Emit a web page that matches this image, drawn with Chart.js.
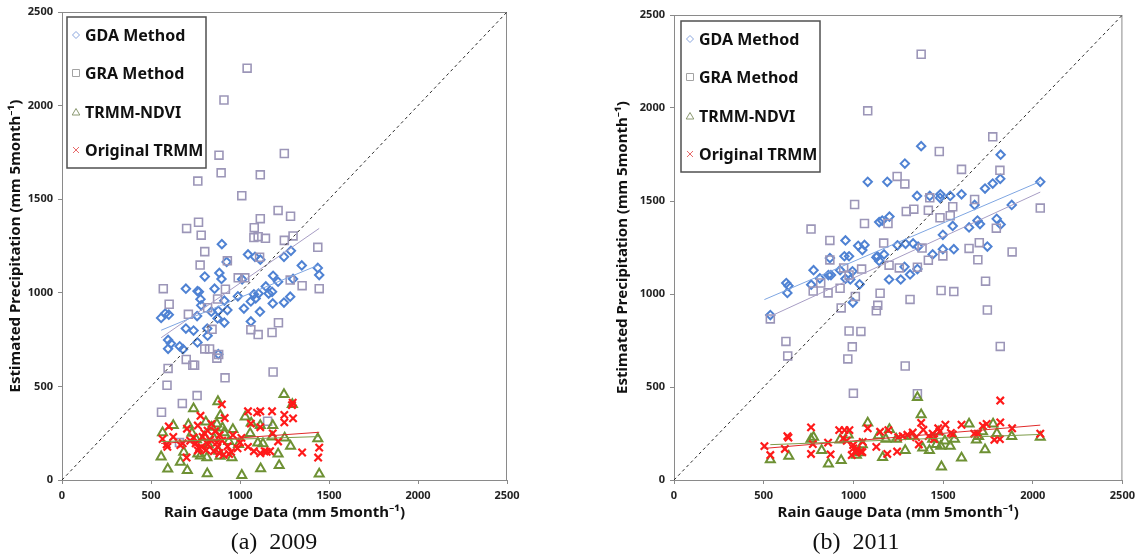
<!DOCTYPE html>
<html lang="en">
<head>
<meta charset="UTF-8">
<title>Rain gauge vs estimated precipitation</title>
<style>
    * { margin: 0; padding: 0; box-sizing: border-box; }
    body {
        width: 1140px;
        height: 560px;
        background: #fff;
        position: relative;
        overflow: hidden;
        font-family: 'Noto Sans', sans-serif;
    }
    .panel { position: absolute; top: 0; width: 570px; height: 530px; }
    .panel canvas { display: block; }
    .caption {
        position: absolute;
        top: 528px;
        width: 200px;
        text-align: center;
        font-family: 'Liberation Serif', serif;
        font-size: 24px;
        color: #111;
        white-space: pre;
    }
</style>
<script src="https://cdn.jsdelivr.net/npm/chart.js"></script>
</head>
<body>
<div class="panel" style="left:0"><canvas id="chart2009" width="570" height="530"></canvas></div>
<div class="panel" style="left:570px"><canvas id="chart2011" width="570" height="530"></canvas></div>
<div class="caption" style="left:174px">(a)  2009</div>
<div class="caption" style="left:756px">(b)  2011</div>

<script>
// axis / legend text
const axisMax = 2500;
const axisStep = 500;
const legendNames = ['GDA Method', 'GRA Method', 'TRMM-NDVI', 'Original TRMM'];
const oneToOne = [[0, 0], [2500, 2500]];

// 2009 : [rain gauge, estimate]
const gda2009 = [[898,1260],[1045,1205],[1084,1192],[1114,1177],[1247,1192],[1286,1224],[925,1165],[1347,1146],
    [1437,1133],[1445,1095],[802,1087],[884,1106],[896,1074],[1186,1091],[1298,1074],[1012,1072],[1214,1059],
    [696,1022],[761,1009],[769,1005],[857,1022],[1145,1034],[1104,996],[988,981],[1078,992],[1088,970],[1161,996],
    [1180,1005],[1282,979],[1184,943],[1247,948],[778,966],[782,933],[912,958],[1022,916],[1061,954],[929,908],
    [1112,899],[1061,847],[557,866],[580,889],[600,883],[759,876],[874,863],[878,904],[839,899],[912,841],[696,809],
    [739,798],[818,771],[816,809],[761,735],[596,748],[612,729],[661,714],[680,699],[596,701],[878,672]];
const gra2009 = [[1040,2200],[910,2030],[882,1735],[894,1641],[763,1597],[1249,1744],[1114,1630],[1010,1519],
    [1214,1440],[1284,1409],[1114,1396],[767,1377],[700,1344],[782,1308],[1080,1348],[1078,1295],[1102,1300],
    [1143,1291],[1298,1304],[1249,1280],[1437,1243],[802,1220],[929,1171],[776,1148],[1110,1190],[990,1080],
    [1027,1080],[1349,1038],[1445,1022],[569,1022],[1282,1068],[918,1019],[874,967],[602,939],[710,885],[818,920],
    [1216,840],[1061,803],[1102,777],[1180,788],[843,805],[802,700],[829,700],[698,644],[745,613],[735,613],
    [880,670],[870,651],[596,596],[916,546],[1186,577],[590,506],[759,451],[676,409],[559,362],[1155,314],[660,200]];
const ndvi2009 = [[1247,457],[876,419],[1294,404],[739,381],[890,345],[1029,337],[808,310],[1063,305],[1114,291],
    [625,291],[710,295],[1184,291],[565,253],[841,282],[902,278],[910,253],[1057,249],[1251,225],[1437,221],
    [1100,198],[1129,194],[1284,181],[992,190],[755,215],[763,139],[822,187],[557,124],[665,95],[684,149],[814,120],
    [888,128],[955,120],[1214,139],[594,59],[704,51],[816,34],[1116,61],[1220,78],[1010,25],[1445,32],[853,223],
    [937,206],[778,129],[880,154],[730,250],[800,230],[870,300],[960,270],[1180,230]];
const trmm2009 = [[1296,413],[1292,400],[898,404],[1045,367],[1114,367],[1180,367],[1249,348],[1298,329],[1249,308],
    [914,331],[778,343],[600,286],[702,274],[763,291],[1061,301],[1114,282],[565,219],[625,230],[818,263],[886,240],
    [1008,225],[1184,249],[1214,206],[1445,173],[1439,120],[1349,147],[592,177],[588,190],[665,187],[678,196],
    [700,120],[739,227],[751,196],[763,158],[784,177],[833,215],[853,154],[874,177],[884,143],[908,135],[939,139],
    [986,169],[1045,177],[1078,154],[1114,143],[1139,154],[1169,154],[1096,360],[800,250],[860,260],[770,170],
    [820,190],[900,210],[950,150],[1000,200],[1150,150],[720,210],[790,230],[810,160],[870,200],[930,180],
    [960,240],[840,300]];
// trend lines (start / end)
const gdaFit2009 = [[557,800],[1445,1150]];
const graFit2009 = [[557,760],[1445,1344]];
const ndviFit2009 = [[557,205],[1445,232]];
const trmmFit2009 = [[557,195],[1445,255]];

// 2011
const gda2011 = [[1378,1795],[1287,1701],[1821,1749],[1080,1603],[1189,1603],[1819,1619],[1777,1594],[1734,1567],
    [2042,1603],[1355,1527],[1426,1527],[1485,1536],[1483,1517],[1540,1527],[1603,1536],[1883,1479],[1676,1479],
    [1201,1416],[1144,1387],[1161,1395],[1799,1404],[1692,1395],[1706,1376],[1821,1374],[1554,1366],[1645,1358],
    [956,1288],[1499,1318],[1333,1272],[1361,1255],[1246,1262],[1291,1270],[1027,1259],[1050,1236],[1062,1264],
    [1747,1255],[1560,1241],[1442,1213],[1499,1241],[950,1203],[976,1203],[1134,1203],[1171,1213],[778,1128],
    [869,1193],[1357,1134],[1285,1146],[995,1122],[983,1078],[813,1084],[861,1102],[875,1102],[1316,1105],
    [1199,1078],[1264,1078],[956,1082],[626,1059],[638,1044],[632,1006],[765,1050],[926,1128],[1144,1178],
    [1128,1197],[997,954],[537,887],[1035,1052]];
const gra2011 = [[1378,2289],[1080,1985],[1777,1845],[1479,1766],[1603,1670],[1817,1665],[1244,1632],[1287,1592],
    [1007,1481],[1676,1508],[2042,1462],[1295,1444],[1337,1456],[1418,1450],[1426,1517],[1554,1469],[1483,1410],
    [1540,1421],[1193,1379],[764,1349],[1062,1379],[869,1288],[1169,1274],[1797,1354],[1702,1276],[1645,1245],
    [1885,1226],[869,1183],[1383,1247],[1499,1205],[1694,1184],[1418,1182],[1199,1155],[1256,1140],[1357,1144],
    [1046,1134],[946,1140],[976,1102],[818,1059],[776,1016],[859,1006],[926,1031],[1011,987],[1149,1004],
    [1489,1019],[1560,1013],[1737,1069],[1316,971],[1136,939],[1128,910],[932,925],[1747,914],[537,866],[976,801],
    [1042,799],[994,716],[1819,718],[624,745],[634,667],[969,651],[1289,613],[1000,466],[1357,464]];
const ndvi2011 = [[1357,444],[1378,351],[1080,307],[1645,301],[1779,301],[1473,259],[778,230],[764,220],[971,243],
    [1201,272],[2042,230],[1883,234],[1734,163],[1603,119],[1491,71],[537,109],[640,128],[823,159],[861,86],
    [932,105],[1037,147],[1017,134],[1163,121],[1289,159],[1387,172],[1424,159],[1463,191],[1487,182],[1540,182],
    [1564,220],[1686,215],[1698,234],[1442,220],[1240,220],[1321,236],[1181,220],[1140,239],[926,216],[1720,260],
    [1800,250],[1510,210],[1050,190]];
const trmm2011 = [[1819,427],[1378,307],[1819,310],[1603,297],[1513,297],[1722,291],[1743,301],[1885,278],[1080,278],
    [764,283],[921,268],[951,268],[978,268],[1473,278],[1442,249],[1331,255],[1195,268],[1149,259],[2042,249],
    [1554,245],[1544,253],[1694,249],[1674,249],[632,236],[638,228],[504,182],[618,167],[774,193],[859,201],
    [944,224],[963,211],[1052,205],[1019,163],[1040,153],[999,188],[1128,178],[1189,140],[1244,153],[1275,236],
    [1301,243],[1420,236],[1450,220],[1817,220],[1786,216],[537,134],[764,140],[873,138],[991,134],[1013,148],
    [1365,191],[1390,270],[1480,260],[1350,230],[1250,230],[1000,170],[1050,150]];
const gdaFit2011 = [[504,970],[2042,1605]];
const graFit2011 = [[537,880],[2042,1548]];
const ndviFit2011 = [[537,190],[2042,245]];
const trmmFit2011 = [[504,170],[2042,295]];

const toPts = arr => arr.map(p => ({ x: p[0], y: p[1] }));

// small symbols for the boxed legend
function drawSymbol(ctx, kind, x, y, color) {
    ctx.save();
    ctx.strokeStyle = color;
    ctx.lineWidth = 1;
    ctx.beginPath();
    if (kind === 'diamond') {
        ctx.moveTo(x, y - 3.5); ctx.lineTo(x + 3.5, y); ctx.lineTo(x, y + 3.5); ctx.lineTo(x - 3.5, y); ctx.closePath();
    } else if (kind === 'square') {
        ctx.rect(x - 3.5, y - 3.5, 7, 7);
    } else if (kind === 'triangle') {
        ctx.moveTo(x, y - 3.5); ctx.lineTo(x + 3.8, y + 3); ctx.lineTo(x - 3.8, y + 3); ctx.closePath();
    } else {
        ctx.moveTo(x - 3, y - 3); ctx.lineTo(x + 3, y + 3); ctx.moveTo(x + 3, y - 3); ctx.lineTo(x - 3, y + 3);
    }
    ctx.stroke();
    ctx.restore();
}

const boxLegend = {
    id: 'boxLegend',
    afterDatasetsDraw(chart, args, opts) {
        const { ctx, chartArea } = chart;
        const x0 = chartArea.left + opts.dx;
        const y0 = chartArea.top + opts.dy;
        ctx.save();
        ctx.fillStyle = '#fff';
        ctx.fillRect(x0, y0, opts.w, opts.h);
        ctx.strokeStyle = '#505050';
        ctx.lineWidth = 1.5;
        ctx.strokeRect(x0, y0, opts.w, opts.h);
        const items = chart.data.datasets.filter(d => d.legendSymbol)
            .sort((a, b) => a.legendIndex - b.legendIndex);
        ctx.font = 'bold 16px "Noto Sans"';
        ctx.textBaseline = 'middle';
        items.forEach((d, i) => {
            const cy = y0 + opts.rows[i];
            drawSymbol(ctx, d.legendSymbol, x0 + 9, cy, d.legendColor);
            ctx.fillStyle = '#111';
            ctx.fillText(d.label, x0 + 18, cy + 1);
        });
        ctx.restore();
    }
};

// gray frame round the plot area
const plotFrame = {
    id: 'plotFrame',
    beforeDatasetsDraw(chart) {
        const { ctx, chartArea: a } = chart;
        ctx.save();
        ctx.strokeStyle = '#8a8a8a';
        ctx.lineWidth = 1;
        ctx.strokeRect(a.left + 0.5, a.top + 0.5, a.right - a.left - 1, a.bottom - a.top);
        ctx.restore();
    }
};

function fitLine(label, pts, color, width) {
    return { label, data: toPts(pts), showLine: true, borderColor: color, borderWidth: width,
             pointRadius: 0, order: 1 };
}

function buildDatasets(gda, gra, ndvi, trmm, fits) {
    return [
        { label: legendNames[0], data: toPts(gda), pointStyle: 'rectRot', pointRadius: 4.2,
          pointBorderColor: '#4f82d3', pointBackgroundColor: 'rgba(0,0,0,0)', pointBorderWidth: 2,
          order: 5, legendSymbol: 'diamond', legendColor: '#8aa6de', legendIndex: 0 },
        { label: legendNames[1], data: toPts(gra), pointStyle: 'rect', pointRadius: 5.6,
          pointBorderColor: '#9c96b8', pointBackgroundColor: 'rgba(0,0,0,0)', pointBorderWidth: 1.6,
          order: 4, legendSymbol: 'square', legendColor: '#a3a3a3', legendIndex: 1 },
        { label: legendNames[2], data: toPts(ndvi), pointStyle: 'triangle', pointRadius: 5.2,
          pointBorderColor: '#6e9134', pointBackgroundColor: 'rgba(0,0,0,0)', pointBorderWidth: 2,
          order: 3, legendSymbol: 'triangle', legendColor: '#8a9870', legendIndex: 2 },
        { label: legendNames[3], data: toPts(trmm), pointStyle: 'crossRot', pointRadius: 5.2,
          pointBorderColor: '#ff1a1a', pointBackgroundColor: 'rgba(0,0,0,0)', pointBorderWidth: 2.2,
          order: 2, legendSymbol: 'cross', legendColor: '#e86a6a', legendIndex: 3 },
        fitLine('GDA trend', fits[0], '#7fa6e2', 1),
        fitLine('GRA trend', fits[1], '#a79dc4', 1),
        fitLine('NDVI trend', fits[2], '#7c9b48', 1),
        fitLine('TRMM trend', fits[3], '#e02a2a', 1),
        { label: '1:1', data: toPts(oneToOne), showLine: true, borderColor: '#2a2a2a', borderWidth: 1,
          borderDash: [3, 3], pointRadius: 0, order: 0 }
    ];
}

function makeChart(id, datasets, cfg) {
    const tickFont = { family: "'Noto Sans', sans-serif", size: 11, weight: 'bold' };
    const titleFont = { family: "'Noto Sans', sans-serif", size: 15, weight: 'bold' };
    const axisBase = {
        type: 'linear', min: 0, max: axisMax,
        ticks: { stepSize: axisStep, color: '#222', font: tickFont, padding: 5, callback: v => String(v) },
        grid: { drawOnChartArea: false, drawTicks: true, tickLength: 4, color: '#8a8a8a' },
        border: { color: '#8a8a8a' }
    };
    return new Chart(document.getElementById(id), {
        type: 'scatter',
        data: { datasets },
        options: {
            responsive: false,
            animation: false,
            layout: { padding: { left: 0, top: cfg.top, right: cfg.right, bottom: 0 } },
            plugins: {
                legend: { display: false },
                tooltip: { enabled: false },
                boxLegend: cfg.legend
            },
            scales: {
                x: Object.assign({}, axisBase, {
                    title: { display: true, text: 'Rain Gauge Data (mm 5month⁻¹)', color: '#111',
                             font: titleFont, padding: { top: 0, bottom: 8 } },
                    afterFit(scale) { scale.height = 50; }
                }),
                y: Object.assign({}, axisBase, {
                    title: { display: true, text: 'Estimated Precipitation (mm 5month⁻¹)', color: '#111',
                             font: titleFont, padding: { top: cfg.yTitlePad, bottom: 0 } },
                    afterFit(scale) { scale.width = cfg.yWidth; }
                })
            }
        },
        plugins: [plotFrame, boxLegend]
    });
}

makeChart('chart2009',
    buildDatasets(gda2009, gra2009, ndvi2009, trmm2009, [gdaFit2009, graFit2009, ndviFit2009, trmmFit2009]),
    { top: 12, right: 63, yWidth: 62, yTitlePad: 7,
      legend: { dx: 5, dy: 5, w: 139, h: 151, rows: [18, 56, 95, 133] } });

makeChart('chart2011',
    buildDatasets(gda2011, gra2011, ndvi2011, trmm2011, [gdaFit2011, graFit2011, ndviFit2011, trmmFit2011]),
    { top: 15, right: 15, yWidth: 104, yTitlePad: 44,
      legend: { dx: 7, dy: 6, w: 139, h: 151, rows: [18, 56, 95, 133] } });
</script>
</body>
</html>
